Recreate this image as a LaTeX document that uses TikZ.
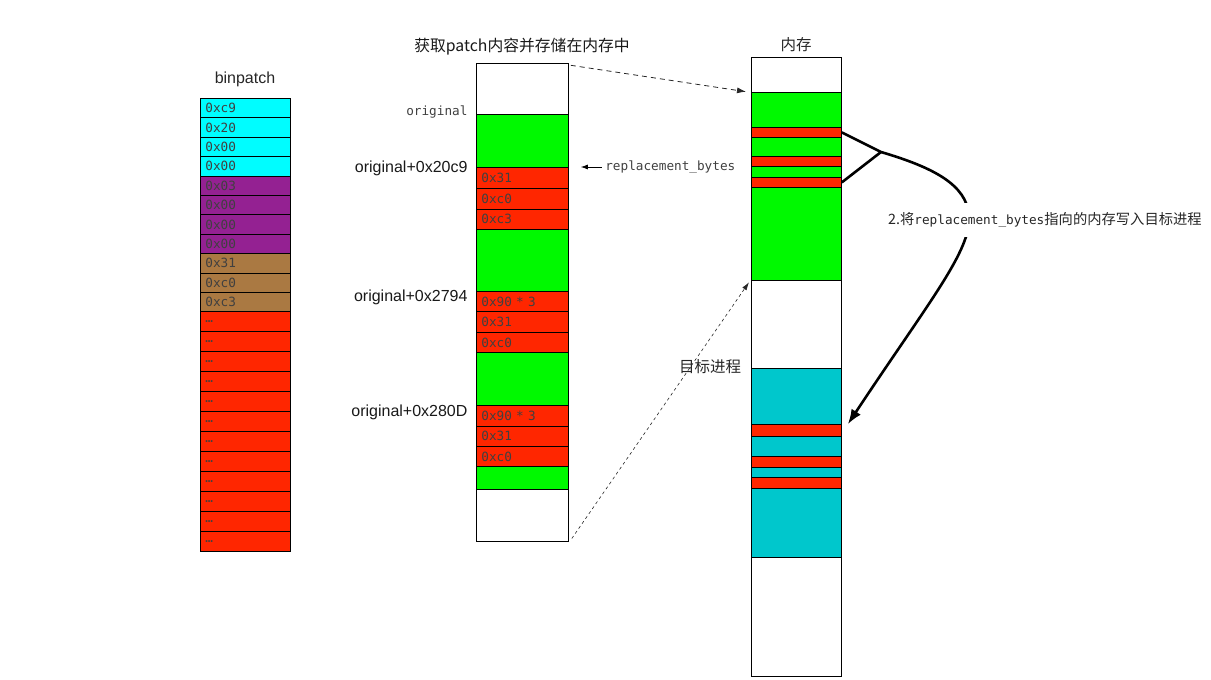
\documentclass[tikz,border=0pt]{standalone}
\usepackage{fontspec}
\setmainfont{Liberation Sans}
\setmonofont{DejaVu Sans Mono}
\newfontfamily\cjk{Noto Sans CJK SC}
\usetikzlibrary{arrows.meta,positioning}
\definecolor{patchcyan}{RGB}{0,253,255}
\definecolor{patchplum}{RGB}{148,33,146}
\definecolor{patchmocha}{RGB}{170,121,66}
\definecolor{patchred}{RGB}{255,38,0}
\definecolor{patchgreen}{RGB}{0,249,0}
\definecolor{patchteal}{RGB}{0,199,204}
\tikzset{
	cell/.style={draw=black, line width=0.8pt, anchor=north west, inner xsep=5pt, inner ysep=0pt, text width=80pt, align=left, font=\fontsize{12.7}{14}\ttfamily, text=black!75},
	memcell/.style={draw=black, line width=0.8pt, anchor=north west, inner sep=0pt, minimum width=90pt},
	addr/.style={anchor=east, font=\fontsize{16}{18}\selectfont, text=black!90},
	cjklabel/.style={font=\cjk\fontsize{15.5}{18}\selectfont, text=black!85},
	monolabel/.style={font=\fontsize{12.7}{14}\ttfamily, text=black!75},
	write/.style={line width=2.6pt, -{Latex[length=15pt,width=11pt]}},
}
\begin{document}
\begin{tikzpicture}[x=1pt,y=-1pt]
	\useasboundingbox (0,0) rectangle (1211,680);
	\node[font=\fontsize{16}{18}\selectfont, text=black!85] (binlabel) at (245,79) {binpatch};
	\foreach \k/\txt/\fillc in {0/0xc9/patchcyan,1/0x20/patchcyan,2/0x00/patchcyan,3/0x00/patchcyan,4/0x03/patchplum,5/0x00/patchplum,6/0x00/patchplum,7/0x00/patchplum,8/0x31/patchmocha,9/0xc0/patchmocha,10/0xc3/patchmocha}{
		\node[cell, fill=\fillc, minimum height=19.4pt] (bp\k) at (200,98+19.4*\k) {\txt};
	}
	\foreach \k in {11,...,22}{
		\node[cell, fill=patchred, minimum height=20pt] (bp\k) at (200,311+20*\k-220) {…};
	}
	\node[cjklabel, text=black!90, font=\cjk\fontsize{15.8}{18}\selectfont] (title) at (522,47) {获取patch内容并存储在内存中};
	\foreach \k/\ya/\yb/\fillc/\txt in {0/63.3/114.3/white/{},1/114.3/167/patchgreen/{},2/167/187.5/patchred/0x31,3/187.5/208.5/patchred/0xc0,4/208.5/229.3/patchred/0xc3,5/229.3/291.3/patchgreen/{},6/291.3/311.3/patchred/{0x90 * 3},7/311.3/331.7/patchred/0x31,8/331.7/352.3/patchred/0xc0,9/352.3/405.3/patchgreen/{},10/405.3/425.7/patchred/{0x90 * 3},11/425.7/445.7/patchred/0x31,12/445.7/466.3/patchred/0xc0,13/466.3/489.3/patchgreen/{},14/489.3/540.7/white/{}}{
		\pgfmathsetmacro\h{\yb-\ya}
		\node[cell, text width=82pt, fill=\fillc, minimum height=\h pt] (pa\k) at (476,\ya) {\txt};
	}
	\node[monolabel, anchor=east] (orig) at ([xshift=-5pt,yshift=2pt]pa1.north west) {original};
	\node[addr] (off1) at ([xshift=-5pt,yshift=-1pt]pa2.north west) {original+0x20c9};
	\node[addr] (off2) at ([xshift=-5pt,yshift=-6pt]pa6.north west) {original+0x2794};
	\node[addr] (off3) at ([xshift=-5pt,yshift=-7pt]pa10.north west) {original+0x280D};
	\coordinate (reptip) at ([xshift=12pt]pa2.north east);
	\node[monolabel, right=21pt of reptip] (rep) {replacement\_bytes};
	\draw[line width=0.8pt, -{Latex[length=7pt,width=5pt]}] (rep.west) -- (reptip);
	\node[cjklabel] (memlabel) at (796,45) {内存};
	\foreach \k/\ya/\yb/\fillc in {0/57.3/91.7/white,1/91.7/126.7/patchgreen,2/126.7/137.3/patchred,3/137.3/155.7/patchgreen,4/155.7/166.3/patchred,5/166.3/176.7/patchgreen,6/176.7/187.3/patchred,7/187.3/280.3/patchgreen,8/280.3/368.3/white,9/368.3/424.3/patchteal,10/424.3/435.7/patchred,11/435.7/455.7/patchteal,12/455.7/466.7/patchred,13/466.7/476.7/patchteal,14/476.7/487.7/patchred,15/487.7/557.3/patchteal,16/557.3/676/white}{
		\pgfmathsetmacro\h{\yb-\ya}
		\node[memcell, fill=\fillc, minimum height=\h pt] (mem\k) at (751,\ya) {};
	}
	\draw[line width=0.8pt, black!85, dash pattern=on 5pt off 4pt, -{Latex[length=9pt,width=6pt]}] ([xshift=2pt,yshift=-2pt]pa0.north east) -- ([xshift=-5pt]mem1.north west);
	\draw[line width=0.6pt, black!85, dash pattern=on 3pt off 3pt, -{Latex[length=8pt,width=5pt]}] ([xshift=3pt,yshift=3pt]pa14.south east) -- ([xshift=-2pt,yshift=-2pt]mem8.north west);
	\node[cjklabel] (target) at (710,367) {目标进程};
	\coordinate (fork) at (881,152);
	\coordinate (tip) at ([xshift=6pt]mem10.north east);
	\draw[write] (mem2.east) -- (fork) .. controls (935,168) and (966,185) .. (969,215) .. controls (972,250) and (930,300) .. (tip);
	\draw[line width=2.6pt] (mem6.east) -- (fork);
	\node[cjklabel, font=\cjk\fontsize{14.3}{17}\selectfont, fill=white, inner xsep=2pt, inner ysep=9pt, anchor=west] (step) at (886,220) {2.将{\ttfamily\fontsize{12.7}{14}\selectfont replacement\_bytes}指向的内存写入目标进程};
\end{tikzpicture}
\end{document}
